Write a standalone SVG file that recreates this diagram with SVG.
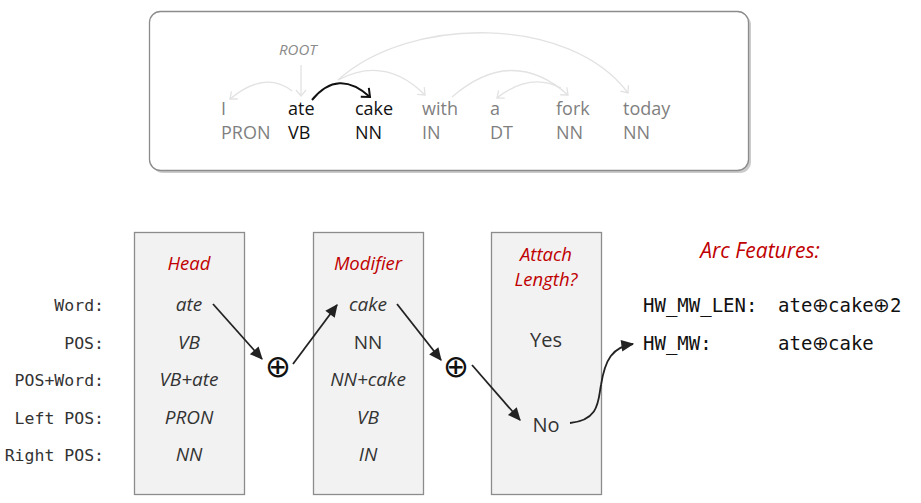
<svg xmlns="http://www.w3.org/2000/svg" width="921" height="503" viewBox="0 0 921 503">
<style>
.w{font-family:"Open Sans","Liberation Sans",sans-serif;font-size:18px;fill:#7f7f7f}
.k{fill:#111}
.root{font-family:"Open Sans","Liberation Sans",sans-serif;font-size:15px;font-style:italic;fill:#8a8a8a}
.arc{fill:none;stroke:#e2e2e2;stroke-width:1.3}
.box{fill:#f2f2f2;stroke:#8c8c8c;stroke-width:1.3}
.hd{font-family:"Open Sans","Liberation Sans",sans-serif;font-size:18.5px;font-style:italic;fill:#c00000;text-anchor:middle}
.v{font-family:"Open Sans","Liberation Sans",sans-serif;font-size:19px;font-style:italic;fill:#333;text-anchor:middle}
.n{font-style:normal}
.big{font-family:"Open Sans","Liberation Sans",sans-serif;font-size:20px;fill:#333;text-anchor:middle}
.lab{font-family:"DejaVu Sans Mono","Liberation Mono",monospace;font-size:16.5px;fill:#333;text-anchor:end}
.mono{font-family:"DejaVu Sans Mono","Liberation Mono",monospace;font-size:19px;fill:#111}
.mop{font-family:"DejaVu Sans",sans-serif;font-size:20px}
.op{font-family:"DejaVu Sans",sans-serif;font-size:31px;fill:#111;text-anchor:middle}
.ar{fill:none;stroke:#222;stroke-width:1.8}
</style>
<defs>
<marker id="chev" markerUnits="userSpaceOnUse" markerWidth="14" markerHeight="14" refX="0" refY="0" viewBox="-8 -7 10 14" orient="auto">
<path d="M-6,-5 L0,0 L-6,5" fill="none" stroke="#e2e2e2" stroke-width="1.3"/>
</marker>
<marker id="chevk" markerUnits="userSpaceOnUse" markerWidth="16" markerHeight="16" refX="0" refY="0" viewBox="-9 -8 11 16" orient="auto">
<path d="M-7,-6 L0,0 L-7,6" fill="none" stroke="#111" stroke-width="2"/>
</marker>
<marker id="tri" markerUnits="userSpaceOnUse" markerWidth="14" markerHeight="14" refX="0" refY="0" viewBox="-11 -6 12 12" orient="auto">
<path d="M-10,-5 L1,0 L-10,5 Z" fill="#222"/>
</marker>
</defs>

<g id="sentence-box">
<rect x="152" y="14" width="599" height="159" rx="11" fill="#b5b5b5" opacity="0.7"/>
<rect x="149.5" y="11.5" width="599" height="159" rx="11" fill="#fff" stroke="#8c8c8c" stroke-width="1.3"/>
<text class="root" x="279" y="55">ROOT</text>
<text class="w" x="221" y="115">I</text>
<text class="w" x="221" y="139">PRON</text>
<text class="w k" x="288" y="115">ate</text>
<text class="w k" x="288" y="139">VB</text>
<text class="w k" x="355" y="115">cake</text>
<text class="w k" x="355" y="139">NN</text>
<text class="w" x="422" y="115">with</text>
<text class="w" x="422" y="139">IN</text>
<text class="w" x="490" y="115">a</text>
<text class="w" x="490" y="139">DT</text>
<text class="w" x="556" y="115">fork</text>
<text class="w" x="556" y="139">NN</text>
<text class="w" x="623" y="115">today</text>
<text class="w" x="623" y="139">NN</text>
</g>

<g id="dependency-arcs">
<path class="arc" d="M301,65 L301,96" marker-end="url(#chev)"/>
<path class="arc" d="M292,91 Q265,70 230,99" marker-end="url(#chev)"/>
<path class="arc" d="M338,80 Q385,55 425,95" marker-end="url(#chev)"/>
<path class="arc" d="M338,80 C410,15 570,15 628,93" marker-end="url(#chev)"/>
<path class="arc" d="M452,97 Q512,45 568,95" marker-end="url(#chev)"/>
<path class="arc" d="M561,88 Q530,72 497,98" marker-end="url(#chev)"/>
<path d="M312,100 Q338,68 370,97" fill="none" stroke="#111" stroke-width="2" marker-end="url(#chevk)"/>
</g>

<g id="row-labels">
<text class="lab" x="104" y="311">Word:</text>
<text class="lab" x="104" y="349">POS:</text>
<text class="lab" x="104" y="386">POS+Word:</text>
<text class="lab" x="104" y="424">Left POS:</text>
<text class="lab" x="104" y="461">Right POS:</text>
</g>

<g id="head">
<rect class="box" x="134.5" y="232.5" width="110" height="262"/>
<text class="hd" x="189" y="270">Head</text>
<text class="v" x="189" y="311">ate</text>
<text class="v" x="189" y="349">VB</text>
<text class="v" x="189" y="386">VB+ate</text>
<text class="v" x="189" y="424">PRON</text>
<text class="v" x="189" y="461">NN</text>
</g>

<g id="modifier">
<rect class="box" x="313.5" y="232.5" width="110" height="262"/>
<text class="hd" x="368" y="270">Modifier</text>
<text class="v" x="368" y="311">cake</text>
<text class="v n" x="368" y="349">NN</text>
<text class="v" x="368" y="386">NN+cake</text>
<text class="v" x="368" y="424">VB</text>
<text class="v" x="368" y="461">IN</text>
</g>

<g id="attach-length">
<rect class="box" x="491.5" y="232.5" width="110" height="262"/>
<text class="hd" x="546" y="261">Attach</text>
<text class="hd" x="546" y="286">Length?</text>
<text class="big" x="546" y="347">Yes</text>
<text class="big" x="546" y="432">No</text>
</g>

<g id="concat-1"><text class="op" x="278" y="377">⊕</text></g>
<g id="concat-2"><text class="op" x="456" y="377">⊕</text></g>

<g id="arc-features">
<text class="hd" x="760" y="258" style="font-size:21px">Arc Features:</text>
<text class="mono" x="643" y="312">HW_MW_LEN:</text>
<text class="mono" y="312"><tspan x="778">ate</tspan><tspan class="mop" x="812">⊕</tspan><tspan x="828">cake</tspan><tspan class="mop" x="873">⊕</tspan><tspan x="890">2</tspan></text>
<text class="mono" x="643" y="350">HW_MW:</text>
<text class="mono" y="350"><tspan x="778">ate</tspan><tspan class="mop" x="812">⊕</tspan><tspan x="828">cake</tspan></text>
</g>

<g id="connectors">
<path class="ar" d="M213,304 L262,359" marker-end="url(#tri)"/>
<path class="ar" d="M293,364 L337,305" marker-end="url(#tri)"/>
<path class="ar" d="M397,304 L441,360" marker-end="url(#tri)"/>
<path class="ar" d="M472,365 L520,420" marker-end="url(#tri)"/>
<path class="ar" d="M570,423 C600,420 598,400 601,385 C605,360 612,347 633,344" marker-end="url(#tri)"/>
</g>
</svg>
